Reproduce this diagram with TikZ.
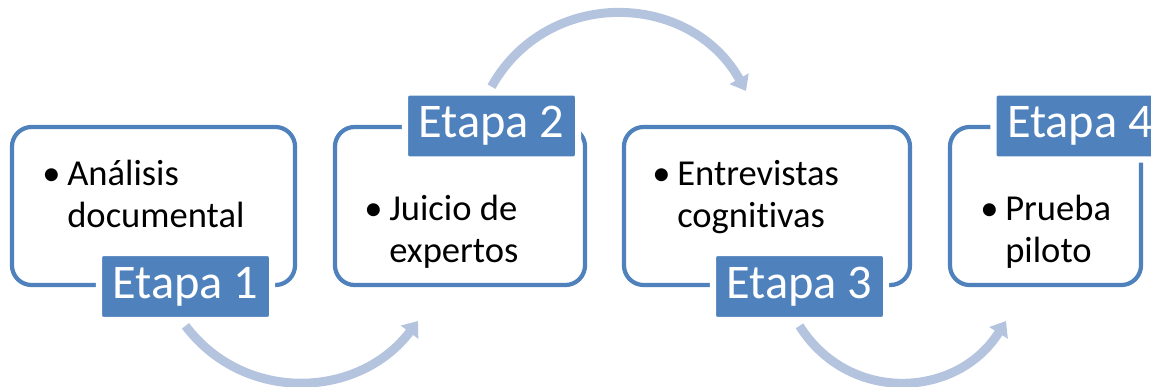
\documentclass[tikz,border=0pt]{standalone}
\usepackage{fontspec}
\setmainfont[Ligatures=NoCommon]{Carlito}
\usetikzlibrary{arrows.meta}
\definecolor{etapablue}{HTML}{4F81BD}
\definecolor{flowblue}{HTML}{B4C4DF}
\newcommand{\bodyfont}{\fontsize{26}{29.9}\selectfont}
\newcommand{\labelfont}{\fontsize{34.4}{40}\selectfont}

\begin{document}
\begin{tikzpicture}[
   x=0.025cm, y=-0.025cm,
   stagebox/.style={draw=etapablue, line width=3pt, fill=white, rounded corners=14pt, minimum height=3.95cm, inner sep=0pt},
   stagelabel/.style={fill=etapablue, draw=white, line width=4.3pt, rounded corners=3pt, minimum width=4.325cm, minimum height=1.675cm, inner sep=0pt, text=white, font=\labelfont},
   bullets/.style={anchor=base west, inner sep=0pt, font=\bodyfont},
   flow/.style={-{Triangle[width=15pt,length=10pt]}, draw=flowblue, line width=6.4pt}
]
\useasboundingbox (0,0) rectangle (1151,387);
\clip (0,0) rectangle (1151,387);

% Etapa 1
\node[stagebox, minimum width=7.075cm] (b1) at (153.5,206) {};
\node[stagelabel] (l1) at (185.5,286.5) {Etapa 1};
\node[bullets] (t1) at (42,185) {\begin{tabular}[t]{@{}p{0.625cm}@{}l@{}}\textbullet & Análisis\\ & documental\end{tabular}};

% Etapa 2
\node[stagebox, minimum width=6.25cm] (b2) at (460,206) {};
\node[stagelabel] (l2) at (491.5,126) {Etapa 2};
\node[bullets] (t2) at (364,220) {\begin{tabular}[t]{@{}p{0.625cm}@{}l@{}}\textbullet & Juicio de\\ & expertos\end{tabular}};

% Etapa 3
\node[stagebox, minimum width=7.15cm] (b3) at (767,206) {};
\node[stagelabel] (l3) at (799.5,286.5) {Etapa 3};
\node[bullets] (t3) at (652,185) {\begin{tabular}[t]{@{}p{0.625cm}@{}l@{}}\textbullet & Entrevistas\\ & cognitivas\end{tabular}};

% Etapa 4
\node[stagebox, minimum width=4.775cm] (b4) at (1045.5,206) {};
\node[stagelabel] (l4) at (1080,126) {Etapa 4};
\node[bullets] (t4) at (980,220) {\begin{tabular}[t]{@{}p{0.625cm}@{}l@{}}\textbullet & Prueba\\ & piloto\end{tabular}};

% flechas
\coordinate (e1) at (418,321);
\coordinate (e2) at (746,91);
\coordinate (e3) at (1006,321);
\draw[flow] ([yshift=-2pt]l1.south) .. controls +(59,78) and +(-59,78) .. (e1);
\draw[flow] ([yshift=2pt]l2.north) .. controls +(56,-100) and +(-56,-100) .. (e2);
\draw[flow] ([yshift=-2pt]l3.south) .. controls +(49,78) and +(-49,78) .. (e3);

\end{tikzpicture}
\end{document}
